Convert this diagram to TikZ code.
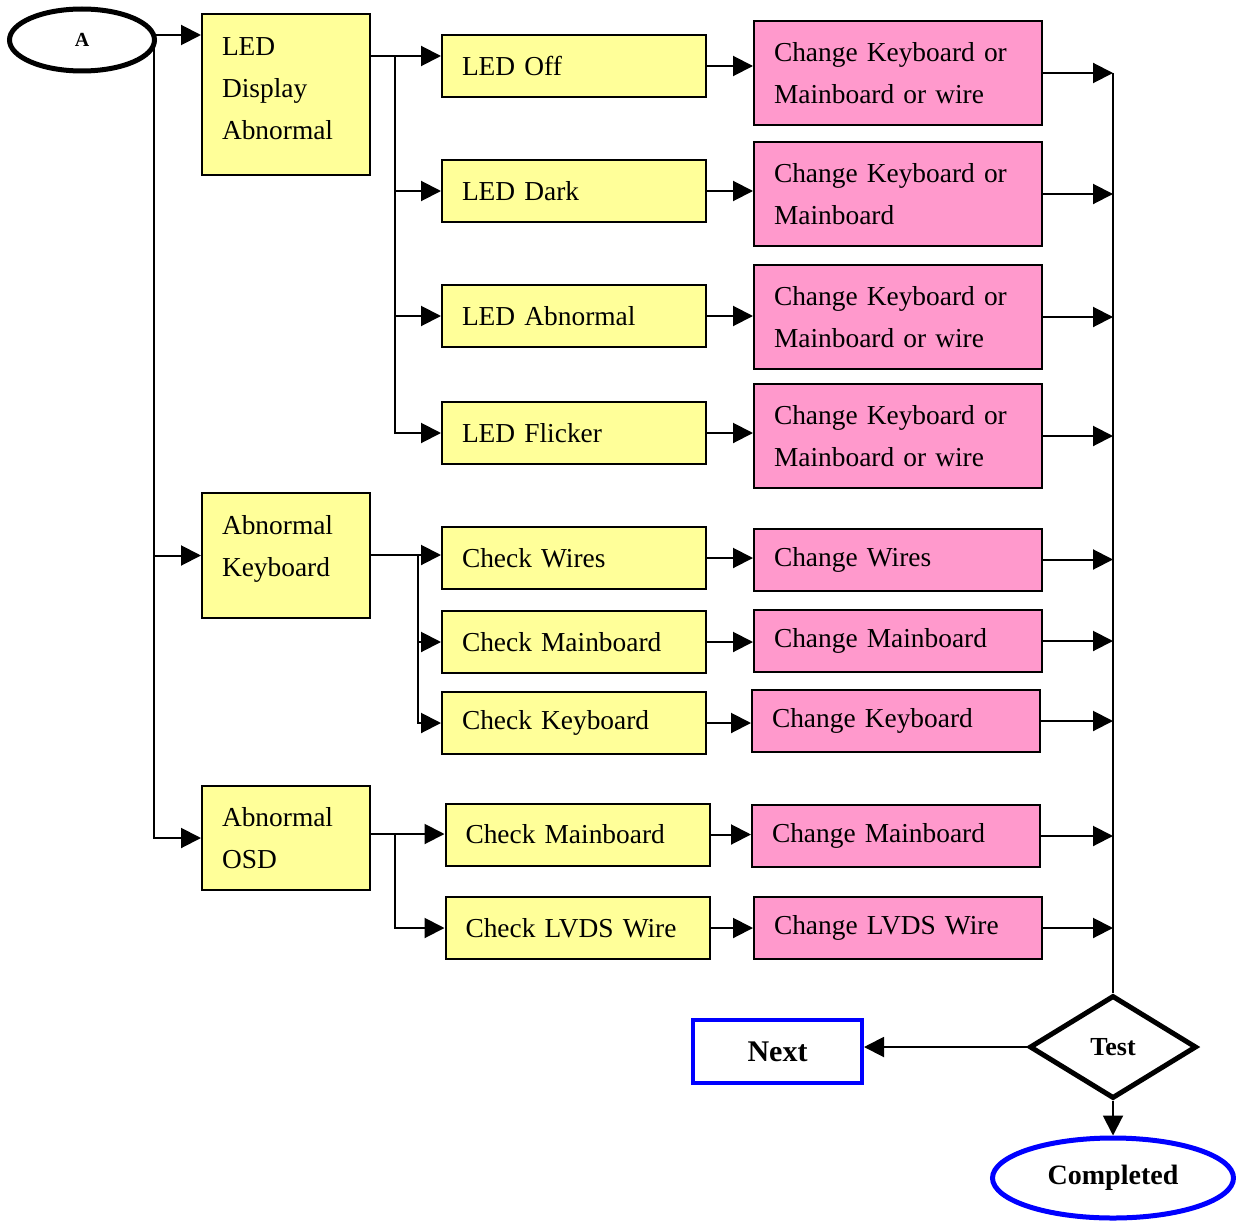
\documentclass[tikz,border=0pt]{standalone}
\usepackage{fontspec}
\setmainfont{Liberation Serif}
\usetikzlibrary{positioning,arrows.meta,shapes.geometric}
\definecolor{boxyellow}{RGB}{255,255,153}
\definecolor{boxpink}{RGB}{255,153,204}
\tikzset{
  >={Triangle[length=10pt,width=10pt]},
  every node/.style={font=\fontsize{13.7}{20.8}\selectfont},
  check/.style={draw,line width=1pt,fill=boxyellow,minimum height=31pt,text width=112pt,inner xsep=10pt,align=left},
  fault/.style={check,text width=64pt},
  change/.style={draw,line width=1pt,fill=boxpink,minimum height=31pt,text width=124pt,inner xsep=10pt,align=left},
}

\begin{document}
\begin{tikzpicture}[
x=0.5pt,y=-0.5pt,
line width=1pt
]
\useasboundingbox (0,0) rectangle (1236,1220);

\node[draw,ellipse,line width=2.5pt,minimum width=72.5pt,minimum height=31pt,inner sep=0pt,font=\bfseries\fontsize{10}{11}\selectfont] (start) at (82,40) {A};

% fault groups
\node[fault,minimum height=80.5pt,text depth=47.6pt] (led) at (286,94.5) {LED\\Display\\Abnormal};
\node[fault,minimum height=62.5pt,text depth=30.5pt] (kb) at (286,555.5) {Abnormal\\Keyboard};
\node[fault,minimum height=52pt] (osd) at (286,838) {Abnormal\\OSD};

% checks
\node[check] (ledoff) at (574,66) {LED Off};
\node[check] (leddark) at (574,191) {LED Dark};
\node[check] (ledabn) at (574,316) {LED Abnormal};
\node[check] (ledflk) at (574,433) {LED Flicker};
\node[check] (chkwire) at (574,558) {Check Wires};
\node[check] (chkmb) at (574,642) {Check Mainboard};
\node[check] (chkkb) at (574,723) {Check Keyboard};
\node[check] (chkmbb) at (577.5,834.5) {Check Mainboard};
\node[check] (chklvds) at (577.5,928) {Check LVDS Wire};

% repairs
\node[change,minimum height=52pt] (chgoff) at (898,73) {Change Keyboard or Mainboard or wire};
\node[change,minimum height=52pt] (chgdark) at (898,194) {Change Keyboard or Mainboard};
\node[change,minimum height=52pt] (chgabn) at (898,317) {Change Keyboard or Mainboard or wire};
\node[change,minimum height=52pt] (chgflk) at (898,436) {Change Keyboard or Mainboard or wire};
\node[change] (chgwire) at (898,559.5) {Change Wires};
\node[change] (chgmb) at (898,641) {Change Mainboard};
\node[change] (chgkb) at (896,721) {Change Keyboard};
\node[change] (chgmbb) at (896,836) {Change Mainboard};
\node[change] (chglvds) at (898,928) {Change LVDS Wire};

\node[draw,diamond,line width=2.5pt,minimum width=83.5pt,minimum height=51.5pt,inner sep=0pt,font=\bfseries\fontsize{13}{15}\selectfont] (test) at (1113,1047) {Test};
\node[draw=blue,line width=2pt,minimum width=84.5pt,minimum height=31.5pt,font=\bfseries\fontsize{15}{17}\selectfont] (next) at (777.5,1051.5) {Next};
\node[draw=blue,ellipse,line width=2.5pt,minimum width=120.5pt,minimum height=40pt,inner sep=0pt,font=\bfseries\fontsize{14}{16}\selectfont] (done) at (1113,1178) {Completed};

% left spine
\coordinate (ls) at (154,35);
\draw[->] (ls) -- (ls -| led.west);
\draw[->] (ls) |- (osd.west);
\draw[->] (ls |- kb.west) -- (kb.west);

% branches
\coordinate (bled) at (395,56);
\coordinate (bkb) at (418,555);
\coordinate (bosd) at (395,834);
\draw (led.east |- bled) -- (bled);
\draw (kb.east |- bkb) -- (bkb);
\draw (osd.east |- bosd) -- (bosd);
\draw[->] (bled) -- (bled -| ledoff.west);
\draw[->] (bkb) -- (bkb -| chkwire.west);
\draw[->] (bosd) -- (bosd -| chkmbb.west);
\foreach \n in {leddark,ledabn,ledflk}
  \draw[->] (bled) |- (\n.west);
\foreach \n in {chkmb,chkkb}
  \draw[->] (bkb) |- (\n.west);
\draw[->] (bosd) |- (chklvds.west);

\foreach \a/\b in {ledoff/chgoff,leddark/chgdark,ledabn/chgabn,ledflk/chgflk,chkwire/chgwire,chkmb/chgmb,chkkb/chgkb,chkmbb/chgmbb,chklvds/chglvds}
  \draw[->] (\a.east) -- (\a.east -| \b.west);

% right spine
\foreach \b in {chgoff,chgdark,chgabn,chgflk,chgwire,chgmb,chgkb,chgmbb,chglvds}
  \draw[->] (\b.east) -- (\b.east -| test.north);
\draw (chgoff.east -| test.north) -- (test.north);

\draw[->] (test.west) -- (test.west -| next.east);
\draw[->] (test.south) -- (done.north);
\end{tikzpicture}
\end{document}
